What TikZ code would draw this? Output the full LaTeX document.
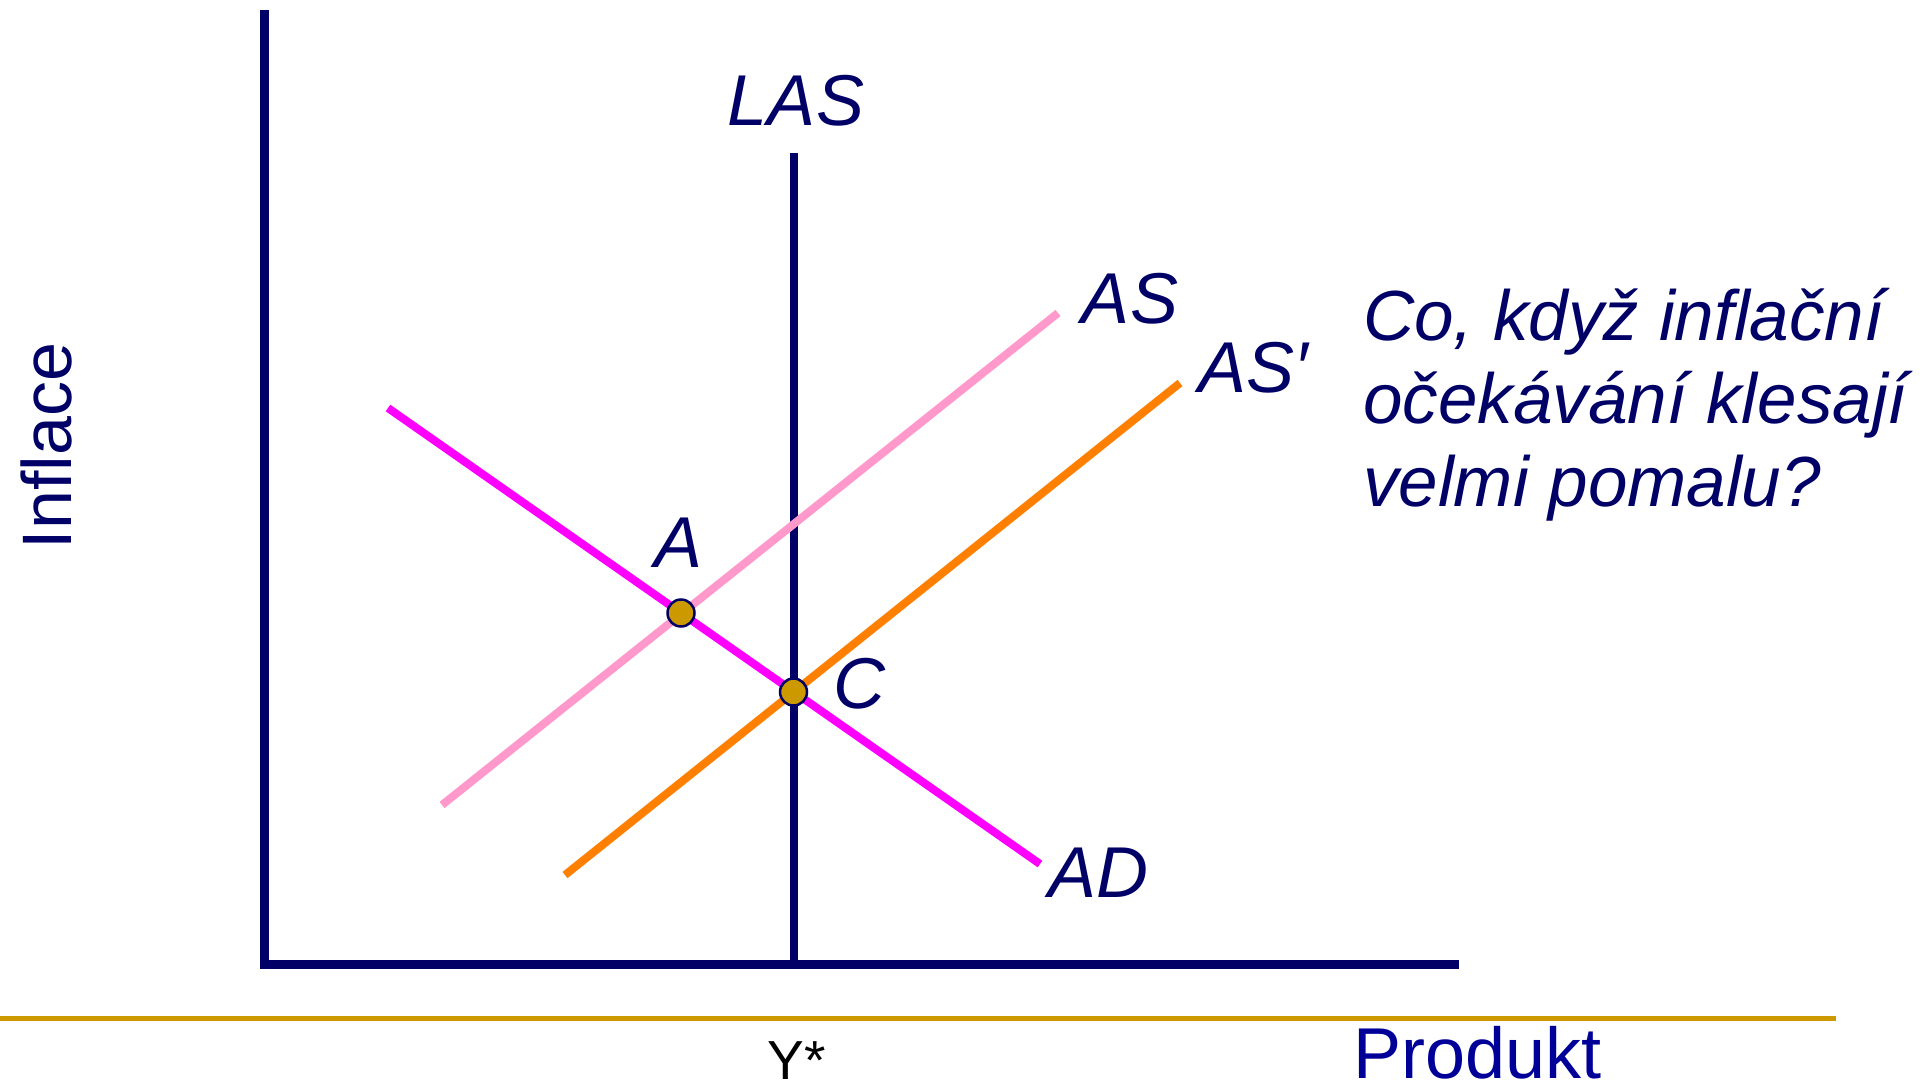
\documentclass[tikz,border=0pt]{standalone}
\usepackage{fontspec}
\setmainfont{Liberation Sans}
\definecolor{navy}{RGB}{0,0,102}
\definecolor{prodblue}{RGB}{0,0,153}
\definecolor{goldc}{RGB}{204,153,0}
\definecolor{pinkas}{RGB}{255,153,204}
\definecolor{orangeas}{RGB}{255,128,0}
\definecolor{magad}{RGB}{255,0,255}
\tikzset{
  lbl/.style={inner sep=0pt, text=navy, font=\fontsize{72}{84}\selectfont\itshape},
  qtext/.style={inner sep=0pt, text=navy, font=\fontsize{71}{84}\selectfont\itshape, anchor=base west},
  axisline/.style={draw=navy, line width=9pt, line join=miter},
  curveline/.style={line width=8pt},
  eqpt/.style={circle, fill=goldc, draw=navy, line width=2.5pt, minimum size=27pt, inner sep=0pt},
}
\begin{document}
\begin{tikzpicture}[x=1pt,y=-1pt]
\useasboundingbox (0,0) rectangle (1931,1081);
% axis ends
\coordinate (ytop) at (264.5,10);
\coordinate (origin) at (264.5,964.5);
\coordinate (xend) at (1459,964.5);
\draw[axisline] (ytop) -- (origin) -- (xend);
% LAS
\coordinate (lastop) at (793.5,153);
\coordinate (lasbot) at (793.5,962);
\draw[draw=navy, line width=8pt] (lastop) -- (lasbot);
% curves
\coordinate (ad1) at (388,408);
\coordinate (ad2) at (1040,864);
\coordinate (as1) at (442,805);
\coordinate (as2) at (1058,313);
\coordinate (asp1) at (565,875);
\coordinate (asp2) at (1180,383);
\draw[curveline, draw=magad] (ad1) -- (ad2);
\draw[curveline, draw=pinkas] (as1) -- (as2);
\draw[curveline, draw=orangeas] (asp1) -- (asp2);
% equilibrium points
\node[eqpt] (A) at (681,613) {};
\node[eqpt] (C) at (793.5,692) {};
% labels
\node[lbl, anchor=base] (laslbl) at (796,125) {LAS};
\node[lbl, anchor=base] (aslbl) at (1130,323) {AS};
\node[lbl, anchor=base west] (asplbl) at (1198,392) {AS′};
\node[lbl, anchor=base] (adlbl) at (1098,897) {AD};
\node[lbl, anchor=base] (albl) at (679,567) {A};
\node[lbl, anchor=base] (clbl) at (859,708) {C};
% question
\node[qtext] (q1) at (1363,340) {Co, když inflační};
\node[qtext] (q2) at (1363,423) {očekávání klesají};
\node[qtext] (q3) at (1363,506) {velmi pomalu?};
% axis titles
\node[inner sep=0pt, text=navy, font=\fontsize{70}{84}\selectfont, rotate=90, anchor=base] (infl) at (71,446) {Inflace};
% gold rule
\coordinate (r1) at (0,1018.5);
\coordinate (r2) at (1836,1018.5);
\draw[draw=goldc, line width=5pt] (r1) -- (r2);
\node[inner sep=0pt, text=black, font=\fontsize{55}{66}\selectfont, anchor=base] (ystar) at (797,1079) {Y*};
\node[inner sep=0pt, text=prodblue, font=\fontsize{72}{84}\selectfont, anchor=base west] (prod) at (1353,1078) {Produkt};
\end{tikzpicture}
\end{document}
